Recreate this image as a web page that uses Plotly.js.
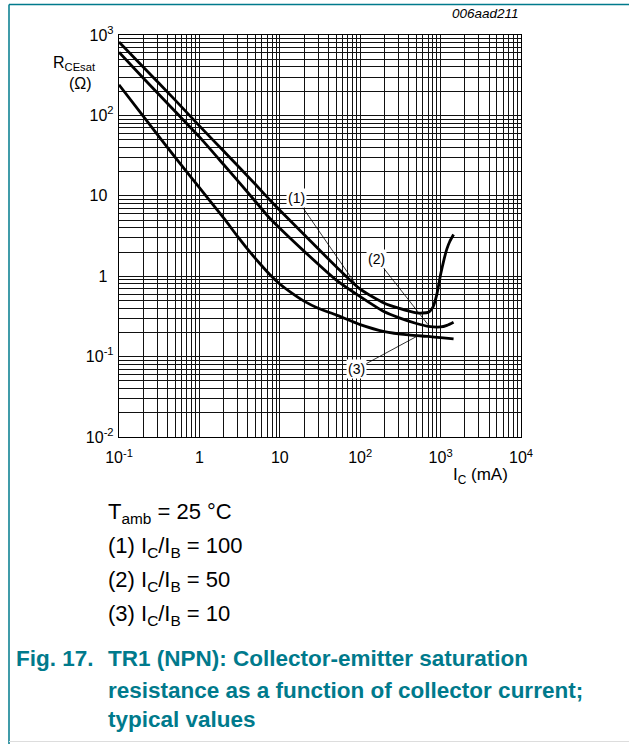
<!DOCTYPE html>
<html><head><meta charset="utf-8">
<script src="https://cdn.plot.ly/plotly-3.0.1.min.js"></script>
<style>html,body{margin:0;padding:0;background:#fff;} #chart{width:629px;height:744px;}</style>
</head><body><div id="chart"></div>
<script>
// ---- data ----
// (1) IC/IB = 100
const ic1 = [0.1, 0.2, 0.5, 1, 2, 5, 7.5, 10, 20, 50, 100, 200, 300, 500, 700, 800, 900, 1000, 1100, 1200, 1300, 1450];
const r1  = [820, 400, 155, 74, 36, 13.8, 8.9, 6.6, 3.3, 1.32, 0.69, 0.46, 0.40, 0.35, 0.355, 0.41, 0.60, 1.05, 1.6, 2.2, 2.7, 3.3];
// (2) IC/IB = 50
const ic2 = [0.1, 0.2, 0.5, 1, 2, 4, 7.5, 10, 20, 50, 100, 200, 300, 500, 700, 1000, 1200, 1450];
const r2  = [610, 292, 112, 54, 24.5, 11.0, 5.25, 3.95, 2.05, 0.90, 0.556, 0.36, 0.305, 0.258, 0.238, 0.234, 0.245, 0.268];
// (3) IC/IB = 10
const ic3 = [0.1, 0.2, 0.5, 1, 2, 3, 4, 5.6, 7.5, 10, 14, 20, 30, 50, 100, 200, 400, 700, 1000, 1450];
const r3  = [240, 98, 30, 12.6, 5.3, 3.1, 2.15, 1.45, 1.05, 0.80, 0.62, 0.49, 0.40, 0.33, 0.25, 0.205, 0.186, 0.178, 0.172, 0.166];

const xTickVals = [0.1, 1, 10, 100, 1000, 10000];
const xTickText = ['10<sup>-1</sup>', '1', '10', '10<sup>2</sup>', '10<sup>3</sup>', '10<sup>4</sup>'];
const yTickVals = [0.01, 0.1, 1, 10, 100, 1000];
const yTickText = ['10<sup>-2</sup>', '10<sup>-1</sup>', '1<sup>\u00a0\u00a0</sup>', '10<sup>\u00a0\u00a0</sup>', '10<sup>2</sup>', '10<sup>3</sup>'];

// curve labels and leader lines (label centre -> point on curve)
const labelText = ['(1)', '(2)', '(3)'];
const labelIc   = [16.1, 159, 89.8];
const labelR    = [9.3, 1.64, 0.0702];
const tipIc     = [98.6, 697, 524];
const tipR      = [0.673, 0.25, 0.182];

// ---- layout helpers (pixel -> paper) ----
const L = 119, T = 35, W = 402, H = 402;
const px = x => (x - L) / W;
const py = y => (T + H - y) / H;

const FONT = 'Liberation Sans, Arial, Helvetica, sans-serif';
const TEAL = '#007a8c';

const lineStyle = {color: '#000', width: 2.8, shape: 'spline', smoothing: 0.6};
const traces = [
  {x: ic1, y: r1, mode: 'lines', line: lineStyle, name: '(1)', hoverinfo: 'skip'},
  {x: ic2, y: r2, mode: 'lines', line: lineStyle, name: '(2)', hoverinfo: 'skip'},
  {x: ic3, y: r3, mode: 'lines', line: lineStyle, name: '(3)', hoverinfo: 'skip'}
];

const gridC = '#111';
const axisCommon = {
  type: 'log', showline: true, mirror: true, linecolor: '#000', linewidth: 1.2,
  showgrid: true, gridcolor: gridC, gridwidth: 1, zeroline: false,
  ticks: '', tickmode: 'array',
  tickfont: {family: FONT, size: 16, color: '#000'},
  minor: {dtick: 'D1', showgrid: true, gridcolor: gridC, gridwidth: 1, ticks: ''}
};

const annotations = [];
for (let i = 0; i < labelText.length; i++) {
  annotations.push({
    x: Math.log10(tipIc[i]), y: Math.log10(tipR[i]), xref: 'x', yref: 'y',
    ax: Math.log10(labelIc[i]), ay: Math.log10(labelR[i]), axref: 'x', ayref: 'y',
    text: labelText[i], showarrow: true, arrowhead: 0, arrowwidth: 0.8, arrowcolor: '#000',
    standoff: 0, startstandoff: 0,
    font: {family: FONT, size: 14, color: '#000'}, bgcolor: '#fff', borderpad: 1
  });
}
function txt(text, x, y, size, opts) {
  return Object.assign({
    text: text, x: px(x), y: py(y), xref: 'paper', yref: 'paper', showarrow: false,
    xanchor: 'left', yanchor: 'middle', align: 'left',
    font: {family: FONT, size: size, color: '#000'}
  }, opts || {});
}
// axis titles
annotations.push(txt('R<sub>CEsat</sub>', 51, 64, 16));
annotations.push(txt('(\u03a9)', 67, 84, 16));
annotations.push(txt('I<sub>C</sub> (mA)', 451, 476, 17));
annotations.push(txt('006aad211', 521, 14, 13.5, {xanchor: 'right', font: {family: FONT, size: 13.5, color: '#000', style: 'italic'}}));
// notes below
annotations.push(txt('T<sub>amb</sub> = 25 \u00b0C', 106, 513, 22));
annotations.push(txt('(1) I<sub>C</sub>/I<sub>B</sub> = 100', 106, 547, 22));
annotations.push(txt('(2) I<sub>C</sub>/I<sub>B</sub> = 50', 106, 581, 22));
annotations.push(txt('(3) I<sub>C</sub>/I<sub>B</sub> = 10', 106, 615, 22));
// caption
const capFont = {family: FONT, size: 22.5, color: TEAL, weight: 'bold'};
annotations.push(txt('<b>Fig. 17.</b>', 14, 658, 22.5, {font: capFont}));
annotations.push(txt('<b>TR1 (NPN): Collector-emitter saturation</b>', 106, 658, 22.5, {font: capFont}));
annotations.push(txt('<b>resistance as a function of collector current;</b>', 106, 690, 22.5, {font: capFont}));
annotations.push(txt('<b>typical values</b>', 106, 719, 22.5, {font: capFont}));

const shapes = [
  {type: 'line', xref: 'paper', yref: 'paper', x0: px(9), x1: px(629), y0: py(4.5), y1: py(4.5), line: {color: TEAL, width: 1.5}},
  {type: 'line', xref: 'paper', yref: 'paper', x0: px(9), x1: px(9), y0: py(4.5), y1: py(744), line: {color: TEAL, width: 1.5}},
  {type: 'line', xref: 'paper', yref: 'paper', x0: px(9), x1: px(629), y0: py(741.5), y1: py(741.5), line: {color: '#ddd', width: 1}}
];

const layout = {
  width: 629, height: 744,
  margin: {l: L, r: 629 - L - W, t: T, b: 744 - T - H, pad: 0},
  paper_bgcolor: '#fff', plot_bgcolor: '#fff',
  showlegend: false,
  xaxis: Object.assign({}, axisCommon, {range: [-1, 4], tickvals: xTickVals, ticktext: xTickText, ticklabelstandoff: 6}),
  yaxis: Object.assign({}, axisCommon, {range: [-2, 3], tickvals: yTickVals, ticktext: yTickText, ticklabelstandoff: 1}),
  annotations: annotations,
  shapes: shapes
};

Plotly.newPlot('chart', traces, layout, {staticPlot: true, displayModeBar: false});
</script>
</body></html>
